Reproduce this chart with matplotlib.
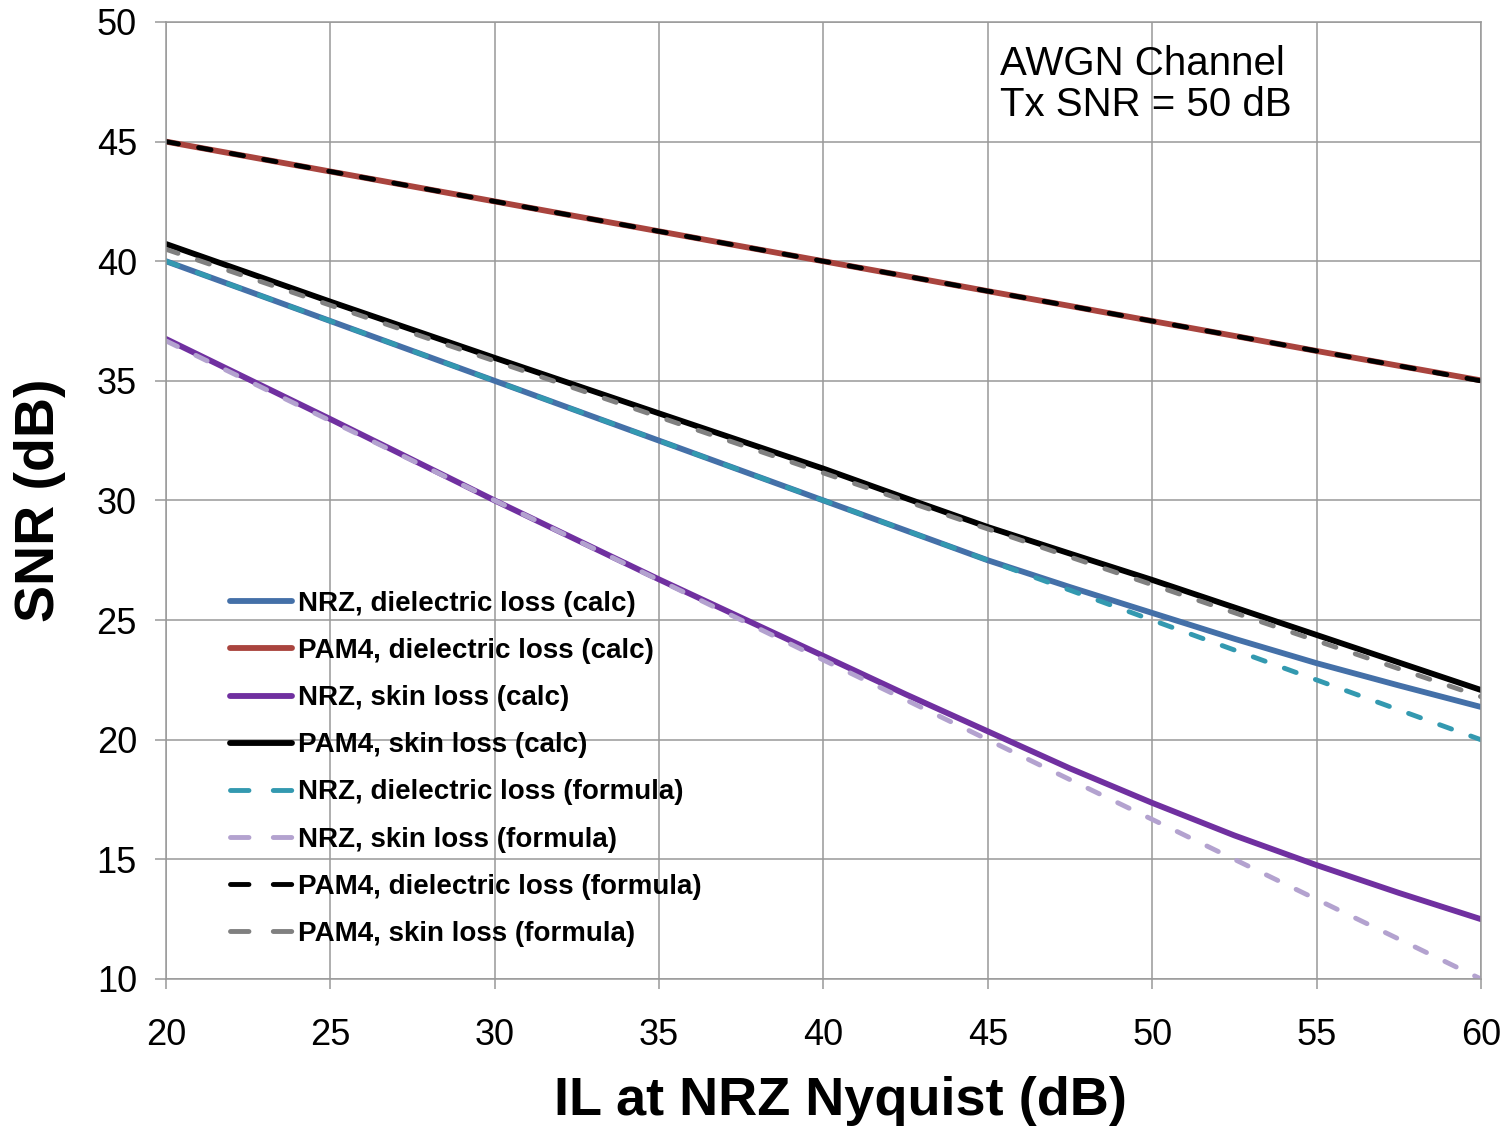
import matplotlib
matplotlib.use('Agg')
import matplotlib.pyplot as plt

plt.rcParams['font.family'] = ['Liberation Sans', 'DejaVu Sans']

# insertion loss at NRZ Nyquist (dB)
il = [20, 25, 30, 35, 40, 42.5, 45, 47.5, 50, 52.5, 55, 57.5, 60]

# calculated SNR (dB)
nrz_diel_calc = [40.0, 37.5, 35.0, 32.5, 30.0, 28.75, 27.5, 26.38, 25.3, 24.22, 23.2, 22.27, 21.37]
pam4_diel_calc = [45.0, 43.75, 42.5, 41.25, 40.0, 39.38, 38.75, 38.13, 37.5, 36.88, 36.25, 35.63, 35.02]
nrz_skin_calc = [36.75, 33.4, 30.0, 26.7, 23.5, 21.9, 20.35, 18.8, 17.36, 16.0, 14.76, 13.6, 12.5]
pam4_skin_calc = [40.72, 38.31, 35.96, 33.64, 31.33, 30.1, 28.89, 27.78, 26.68, 25.53, 24.38, 23.23, 22.08]

# formula SNR (dB)
nrz_diel_form = [40.0, 37.5, 35.0, 32.5, 30.0, 28.75, 27.5, 26.25, 25.0, 23.75, 22.5, 21.25, 20.0]
nrz_skin_form = [36.67, 33.33, 30.0, 26.67, 23.33, 21.67, 20.0, 18.33, 16.67, 15.0, 13.33, 11.67, 10.0]
pam4_diel_form = [45.0, 43.75, 42.5, 41.25, 40.0, 39.38, 38.75, 38.13, 37.5, 36.88, 36.25, 35.63, 35.0]
pam4_skin_form = [40.5, 38.16, 35.83, 33.49, 31.15, 29.98, 28.81, 27.64, 26.48, 25.31, 24.14, 22.97, 21.8]

fig = plt.figure(figsize=(15.11, 11.28), dpi=100)
ax = fig.add_axes([0.1099, 0.1321, 0.8702, 0.8484])

solid = dict(lw=4.2, solid_capstyle='round')
dash = dict(lw=3.5, dashes=(2.6, 4.2), dash_capstyle='round')

ax.plot(il, nrz_diel_calc, color='#4470A8', label='NRZ, dielectric loss (calc)', **solid)
ax.plot(il, pam4_diel_calc, color='#A9443E', label='PAM4, dielectric loss (calc)', **solid)
ax.plot(il, nrz_skin_calc, color='#7030A0', label='NRZ, skin loss (calc)', **solid)
ax.plot(il, pam4_skin_calc, color='black', label='PAM4, skin loss (calc)', **solid)
ax.plot(il, nrz_diel_form, color='#3399B0', label='NRZ, dielectric loss (formula)', **dash)
ax.plot(il, nrz_skin_form, color='#B3A2CF', label='NRZ, skin loss (formula)', **dash)
ax.plot(il, pam4_diel_form, color='black', label='PAM4, dielectric loss (formula)', **dash)
ax.plot(il, pam4_skin_form, color='#808080', label='PAM4, skin loss (formula)', **dash)

ax.set_xlim(20, 60)
ax.set_ylim(10, 50)
ax.set_xticks(range(20, 61, 5))
ax.set_yticks(range(10, 51, 5))
ax.grid(True, color='#999999', lw=1.1)
ax.set_axisbelow(True)
for s in ax.spines.values():
    s.set_color('#999999')
    s.set_linewidth(1.1)
ax.tick_params(axis='both', colors='#999999', labelcolor='black', labelsize=26, width=1.1)
ax.tick_params(axis='y', length=8, pad=13)
ax.tick_params(axis='x', length=7, pad=21)

ax.set_xlabel('IL at NRZ Nyquist (dB)', fontsize=39, fontweight='bold')
ax.xaxis.set_label_coords(0.513, -0.101)
ax.set_ylabel('SNR (dB)', fontsize=40, fontweight='bold', labelpad=22)

ax.text(45.37, 47.39, 'AWGN Channel\nTx SNR = 50 dB', fontsize=29, va='center', ha='left',
        linespacing=1.12)

leg = ax.legend(loc='upper left', bbox_to_anchor=(0.04, 0.417), frameon=False,
                prop={'size': 20, 'weight': 'bold'}, handlelength=2.25, handletextpad=0.2,
                labelspacing=0.76, borderaxespad=0)
for h in leg.get_lines()[4:]:
    h.set_dashes((3.8, 5.0))

fig.savefig('out.png', dpi=100)
